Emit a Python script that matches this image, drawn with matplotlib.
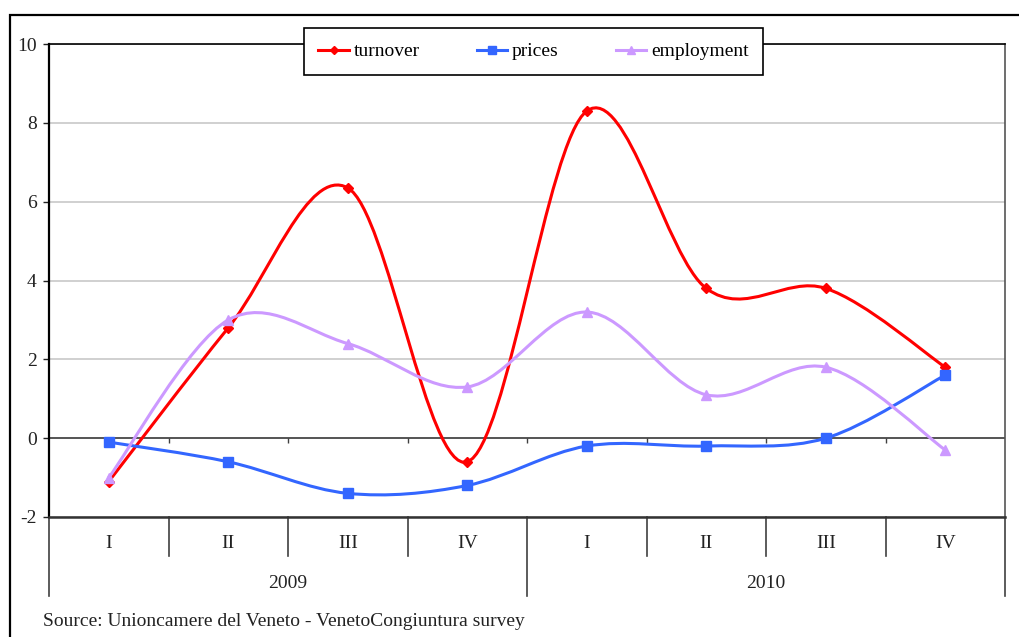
import matplotlib.pyplot as plt
import matplotlib.transforms as mtransforms
import numpy as np
from matplotlib.lines import Line2D
from matplotlib.patches import PathPatch, Rectangle
from matplotlib.path import Path

plt.rcParams["font.family"] = ["Liberation Serif", "DejaVu Serif"]
plt.rcParams["axes.unicode_minus"] = False

quarters = ["I", "II", "III", "IV", "I", "II", "III", "IV"]
years = ["2009", "2010"]
turnover = [-1.1, 2.8, 6.35, -0.6, 8.3, 3.8, 3.8, 1.8]
prices = [-0.1, -0.6, -1.4, -1.2, -0.2, -0.2, 0.0, 1.6]
employment = [-1.0, 3.0, 2.4, 1.3, 3.2, 1.1, 1.8, -0.3]
source = "Source: Unioncamere del Veneto - VenetoCongiuntura survey"


def smooth_path(x, y):
    # Excel-like smoothed line: Catmull-Rom segments as cubic Beziers
    pts = np.column_stack([x, y]).astype(float)
    n = len(pts)
    verts = [pts[0]]
    codes = [Path.MOVETO]
    for i in range(n - 1):
        p0 = pts[max(i - 1, 0)]
        p1 = pts[i]
        p2 = pts[i + 1]
        p3 = pts[min(i + 2, n - 1)]
        verts += [p1 + (p2 - p0) / 6, p2 - (p3 - p1) / 6, p2]
        codes += [Path.CURVE4] * 3
    return Path(verts, codes)


fig = plt.figure(figsize=(10.19, 6.37), dpi=100)
ax = fig.add_axes([0.0481, 0.1884, 0.9382, 0.7425])

x = np.arange(len(quarters))
series = [
    (turnover, "turnover", "#ff0000", "D", 5),
    (prices, "prices", "#3366ff", "s", 7),
    (employment, "employment", "#cc99ff", "^", 7),
]
handles = []
for values, name, color, marker, ms in series:
    ax.add_patch(PathPatch(smooth_path(x, values), fill=False, edgecolor=color,
                           lw=2.2, zorder=3, capstyle="round"))
    ax.plot(x, values, ls="none", marker=marker, ms=ms, color=color, zorder=4)
    handles.append(Line2D([], [], color=color, lw=2.2, marker=marker, ms=ms - 1,
                          label=name))

ax.set_xlim(-0.5, len(quarters) - 0.5)
ax.set_ylim(-2, 10)
ax.set_yticks(range(-2, 11, 2))
ax.set_xticks([])
ax.tick_params(axis="y", length=4, width=1, direction="out", labelsize=14,
               pad=5, colors="#222222")
ax.yaxis.grid(True, color="#c8c8c8", lw=1.2)
ax.set_axisbelow(True)
ax.axhline(0, color="#404040", lw=1.2, zorder=2)

for side, lw, c in [("left", 1.6, "black"), ("top", 1.2, "black"),
                    ("right", 1.2, "#555555"), ("bottom", 1.8, "#333333")]:
    ax.spines[side].set_linewidth(lw)
    ax.spines[side].set_color(c)

# small tick marks on the zero line
bounds = np.arange(-0.5, len(quarters), 1)
ax.vlines(bounds[1:-1], -0.12, 0, color="#404040", lw=1, zorder=2)

# category axis below the plot
trans = mtransforms.blended_transform_factory(ax.transData, ax.transAxes)
for i, b in enumerate(bounds):
    length = 0.167 if i % 4 == 0 else 0.0825
    ax.plot([b, b], [0, -length], transform=trans, clip_on=False,
            color="#404040", lw=1.2)
for xi, q in zip(x, quarters):
    ax.text(xi, -0.057, q, transform=trans, ha="center", va="center",
            fontsize=14, color="#222222")
for k, yr in enumerate(years):
    ax.text(k * 4 + 1.5, -0.14, yr, transform=trans, ha="center", va="center",
            fontsize=14, color="#222222")

leg = fig.legend(handles=handles, loc="center", bbox_to_anchor=(0.5236, 0.919),
                 ncol=3, fontsize=14, frameon=True, fancybox=False,
                 handlelength=1.55, handletextpad=0.25, columnspacing=2.95,
                 borderpad=0.75)
leg.get_frame().set_edgecolor("black")
leg.get_frame().set_linewidth(1.2)
leg.get_frame().set_alpha(1)

fig.add_artist(Rectangle((10 / 1019, -0.1), 1.2, 1.1 - 15 / 637, fill=False,
                         edgecolor="black", lw=1.6, transform=fig.transFigure))
fig.text(43 / 1019, 1 - 621 / 637, source, fontsize=14, ha="left", va="center",
         color="#222222")

fig.savefig("out.png", dpi=100)
